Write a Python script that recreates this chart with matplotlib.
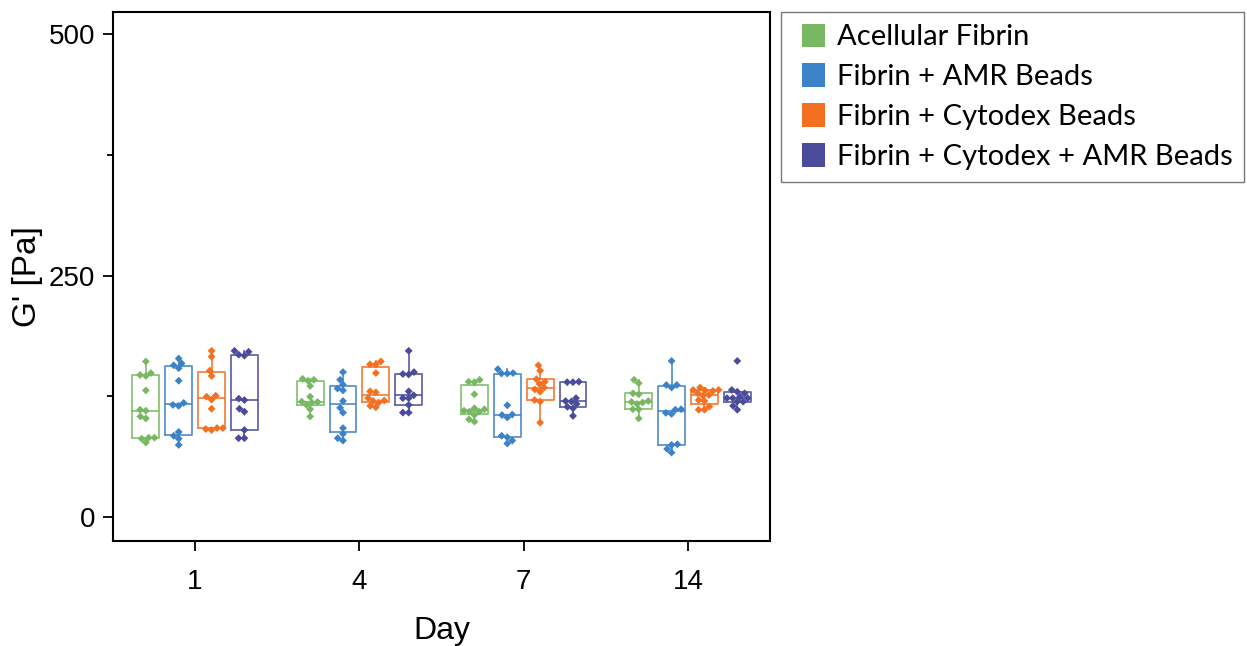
import numpy as np
import pandas as pd
import matplotlib
matplotlib.use('Agg')
import matplotlib.pyplot as plt
import seaborn as sns
from matplotlib.patches import Patch, Rectangle
from matplotlib.legend_handler import HandlerPatch
from matplotlib.ticker import MultipleLocator

# dias e grupos
days = ['1', '4', '7', '14']
groups = ['Acellular Fibrin', 'Fibrin + AMR Beads',
          'Fibrin + Cytodex Beads', 'Fibrin + Cytodex + AMR Beads']
colors = ['#78b862', '#3b82c8', '#f37021', '#4a4b9b']

# valores de G' [Pa], por grupo e por dia
acellular = {
    '1': [161, 149, 147, 146, 131, 111, 110, 104, 102, 82, 82, 81, 77],
    '4': [143, 142, 141, 135.6, 124.5, 119.4, 119, 118.5, 116, 111.5, 104],
    '7': [142, 140, 139.5, 127, 112.5, 111.5, 110, 109, 109, 105.6, 101, 98.7],
    '14': [142, 138.5, 128, 127, 120, 119, 118.5, 117, 111.5, 111.5, 102],
}
amr = {
    '1': [164, 159, 157, 154, 141, 118, 116, 115, 88, 84, 81, 74.5],
    '4': [150, 142, 137, 133, 131, 120, 113, 108, 92, 86, 81.5, 79],
    '7': [153, 149, 148.5, 148.5, 115.6, 106, 105.5, 103, 84, 82.5, 79, 76],
    '14': [161.5, 136.6, 136.6, 134, 111.5, 111, 107.7, 106.6, 75.2, 74.5, 70.4, 66.6],
}
cytodex = {
    '1': [172, 166, 151.5, 146, 125.5, 124.5, 121.5, 112, 92, 92, 91, 90],
    '4': [161, 158, 158, 149, 130, 129, 123, 120.5, 120, 118.5, 115, 113.5],
    '7': [157, 151.5, 142.6, 140, 137.7, 134, 132, 129.7, 121, 119.4, 97.6],
    '14': [134, 131.5, 131.5, 131, 130.5, 128, 126.3, 125.6, 121, 120, 114.2, 111, 111],
}
cyto_amr = {
    '1': [172, 171, 168, 167, 122.5, 121, 112, 109, 90, 81.5, 81.5],
    '4': [172, 150, 148, 147.5, 130, 126, 123, 123, 116, 108, 108],
    '7': [140, 139.5, 139.5, 123, 120, 119.5, 117, 114, 112.5, 104.6],
    '14': [161.5, 131.5, 129.6, 128, 124.5, 123, 123, 123, 119.4, 119.4, 115, 111],
}
all_data = [acellular, amr, cytodex, cyto_amr]

# monta o dataframe longo para o swarmplot
rows = []
for name, data in zip(groups, all_data):
    for d in days:
        for v in data[d]:
            rows.append({'Day': d, 'G': v, 'Group': name})
df = pd.DataFrame(rows)

plt.rcParams['font.family'] = ['Liberation Sans', 'DejaVu Sans']
fig = plt.figure(figsize=(12.47, 6.46), dpi=100)
ax = fig.add_axes([0.0906, 0.1625, 0.527, 0.819])

# caixas com quartis "exclusivos" (estilo Excel) e bigodes de 1.5*IQR
offsets = [-0.3, -0.1, 0.1, 0.3]
for gi, (data, c) in enumerate(zip(all_data, colors)):
    for di, d in enumerate(days):
        v = np.array(data[d], dtype=float)
        q1, med, q3 = np.percentile(v, [25, 50, 75], method='weibull')
        iqr = q3 - q1
        lo = v[v >= q1 - 1.5 * iqr].min()
        hi = v[v <= q3 + 1.5 * iqr].max()
        st = {'med': med, 'q1': q1, 'q3': q3, 'whislo': lo, 'whishi': hi, 'fliers': []}
        lp = dict(color=c, linewidth=1.3, alpha=0.85)
        ax.bxp([st], positions=[di + offsets[gi]], widths=0.164, showfliers=False,
               showcaps=False, boxprops=lp, whiskerprops=lp, medianprops=lp,
               manage_ticks=False)

palette = dict(zip(groups, colors))
sns.swarmplot(data=df, x='Day', y='G', hue='Group', order=days, hue_order=groups,
              palette=palette, dodge=True, marker='D', size=4, linewidth=0,
              legend=False, ax=ax, zorder=3)

ax.set_xlim(-0.5, 3.5)
ax.set_ylim(-25, 523)
ax.set_xticks(range(len(days)))
ax.set_xticklabels(days)
ax.set_yticks([0, 250, 500])
ax.yaxis.set_minor_locator(MultipleLocator(125))
ax.tick_params(axis='both', which='major', labelsize=20, length=7, width=1.3)
ax.tick_params(axis='y', which='major', pad=6)
ax.tick_params(axis='x', which='major', pad=13)
ax.tick_params(axis='y', which='minor', length=4, width=1.3)
for s in ax.spines.values():
    s.set_linewidth(1.5)
ax.set_xlabel('Day', fontsize=23, labelpad=15)
ax.set_ylabel("G' [Pa]", fontsize=24, labelpad=4)


# quadrado da legenda encostado a direita da caixa do handle
def square(legend, orig_handle, xdescent, ydescent, width, height, fontsize):
    return Rectangle((width - height - xdescent, -ydescent), height, height)


handles = [Patch(facecolor=c, edgecolor='none') for c in colors]
leg = fig.legend(handles, groups, loc='upper left', bbox_to_anchor=(0.6263, 0.9814),
                 prop={'family': 'Lato', 'size': 21}, frameon=True, fancybox=False,
                 edgecolor='#555555', handlelength=1.11, handleheight=0.86,
                 handletextpad=0.41, labelspacing=0.445, borderpad=0.4,
                 borderaxespad=0,
                 handler_map={Patch: HandlerPatch(patch_func=square)})
leg.get_frame().set_linewidth(1.0)

fig.savefig('out.png', dpi=100)
